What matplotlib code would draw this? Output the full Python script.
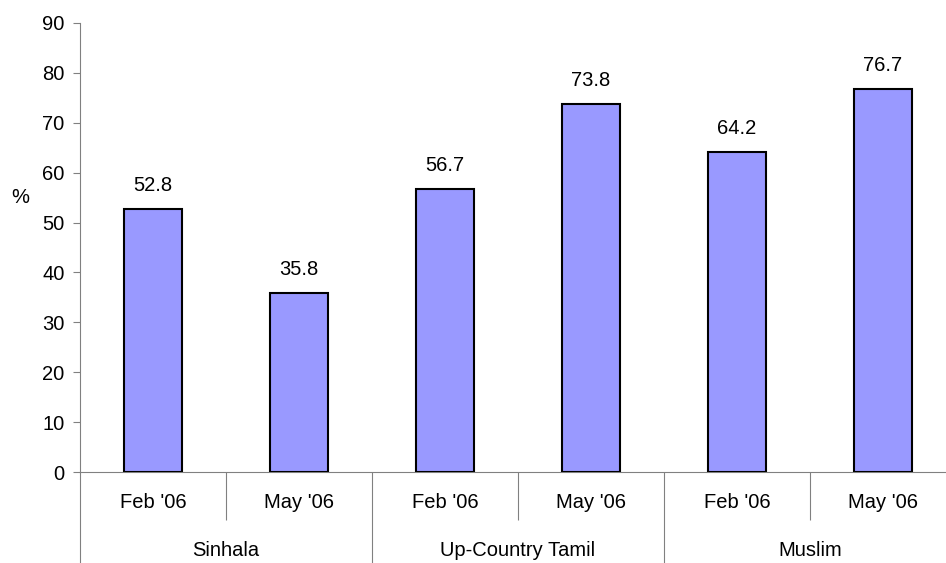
import matplotlib
matplotlib.use("Agg")
import matplotlib.pyplot as plt

plt.rcParams['font.family'] = ['Liberation Sans', 'DejaVu Sans']

groups = ["Sinhala", "Up-Country Tamil", "Muslim"]
periods = ["Feb '06", "May '06"]
values = [52.8, 35.8, 56.7, 73.8, 64.2, 76.7]
yticks = [0, 10, 20, 30, 40, 50, 60, 70, 80, 90]

FS = 14.5
W, H = 946, 563
fig = plt.figure(figsize=(W / 100, H / 100), dpi=100)
left, right, top, bottom = 80, 946, 23, 472
ax = fig.add_axes([left / W, (H - bottom) / H, (right - left) / W, (bottom - top) / H])

n = len(values)
xs = list(range(n))
cat_px = 146
ax.bar(xs, values, width=0.4, color="#9999FF", edgecolor="black", linewidth=1.5, zorder=3)
for x, v in zip(xs, values):
    ax.annotate(f"{v:.1f}", (x, v), xytext=(0, 14), textcoords="offset pixels",
                ha="center", va="bottom", fontsize=FS)

ax.set_xlim(-0.5, -0.5 + (right - left) / cat_px)
ax.set_ylim(0, 90)
ax.set_yticks(yticks)
ax.tick_params(axis="y", direction="out", length=5, width=0.8, color="#808080",
               labelsize=FS, pad=6)

# boundaries between periods (short) and between groups (long)
ax.set_xticks([0.5, 2.5, 4.5])
ax.set_xticks([-0.5, 1.5, 3.5], minor=True)
ax.tick_params(axis="x", which="major", direction="out", length=48 * 0.72, width=0.8,
               color="#808080", labelbottom=False)
ax.tick_params(axis="x", which="minor", direction="out", length=95 * 0.72, width=0.8,
               color="#808080", labelbottom=False)

for s in ["top", "right"]:
    ax.spines[s].set_visible(False)
for s in ["left", "bottom"]:
    ax.spines[s].set_color("#808080")
    ax.spines[s].set_linewidth(0.8)

trans = ax.get_xaxis_transform()
hpx = bottom - top
for i in range(n):
    ax.text(i, -31 / hpx, periods[i % 2], transform=trans, ha="center", va="center", fontsize=FS)
for g, name in enumerate(groups):
    ax.text(2 * g + 0.5, -78 / hpx, name, transform=trans, ha="center", va="center", fontsize=FS)

ax.text(-60 / cat_px - 0.5, 55, "%", fontsize=FS, ha="center", va="center")
ax.set_ylabel("")

fig.savefig("out.png", dpi=100)
